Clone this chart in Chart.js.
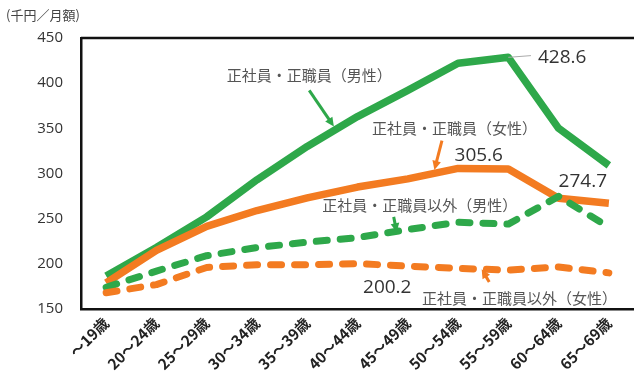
<!DOCTYPE html>
<html>
<head>
<meta charset="utf-8">
<script src="https://cdn.jsdelivr.net/npm/chart.js@4"></script>
<style>
  html, body { margin: 0; padding: 0; background: #fff; }
  #wrap { width: 634px; height: 379px; position: relative; }
</style>
</head>
<body>
<div id="wrap"><canvas id="chartWage"></canvas></div>
<script>
// 年齢階級別の賃金（千円／月額）- 値は図から読み取り
const ageLabels = ['～19歳', '20～24歳', '25～29歳', '30～34歳', '35～39歳', '40～44歳', '45～49歳', '50～54歳', '55～59歳', '60～64歳', '65～69歳'];
const regularMale = [186.5, 218, 252, 293, 330, 363, 392, 422, 428.6, 350, 309];
const regularFemale = [179, 215, 241.5, 259, 273, 285, 294, 305.6, 305, 272.5, 267];
const nonRegularMale = [174, 192, 209, 218, 224, 229, 238, 246, 244, 274.7, 240.5];
const nonRegularFemale = [168, 177, 196, 199, 199, 200.2, 197.5, 195, 193, 196.5, 190];
const yTicks = [150, 200, 250, 300, 350, 400, 450];

const GREEN = '#2ea84a';
const ORANGE = '#f37b21';
const JP_FONT = '"Noto Sans CJK JP", "Noto Sans", sans-serif';

// 注記: x = カテゴリ位置, y = 値（スケール経由で描画）
const notes = [
  { text: '正社員・正職員（男性）', x: 4.04, y: 408.5, arrow: [4.04, 392, 4.53, 352], color: GREEN },
  { text: '正社員・正職員（女性）', x: 6.93, y: 350, arrow: [6.68, 336.5, 6.53, 304], color: ORANGE },
  { text: '正社員・正職員以外（男性）', x: 6.24, y: 265, arrow: [5.72, 252, 5.78, 235], color: GREEN },
  { text: '正社員・正職員以外（女性）', x: 8.22, y: 161.5, arrow: [7.62, 180, 7.47, 194], color: ORANGE },
];
const valueNotes = [
  { text: '428.6', x: 8.59, y: 428.5 },
  { text: '305.6', x: 6.93, y: 320 },
  { text: '274.7', x: 9.0, y: 291 },
  { text: '200.2', x: 5.11, y: 174 },
];

function drawArrow(c, x1, y1, x2, y2, color) {
  const ang = Math.atan2(y2 - y1, x2 - x1);
  const head = 10;
  c.strokeStyle = color;
  c.fillStyle = color;
  c.lineWidth = 3;
  c.beginPath();
  c.moveTo(x1, y1);
  c.lineTo(x2 - Math.cos(ang) * head * 0.8, y2 - Math.sin(ang) * head * 0.8);
  c.stroke();
  c.beginPath();
  c.moveTo(x2, y2);
  c.lineTo(x2 - head * Math.cos(ang - 0.45), y2 - head * Math.sin(ang - 0.45));
  c.lineTo(x2 - head * Math.cos(ang + 0.45), y2 - head * Math.sin(ang + 0.45));
  c.closePath();
  c.fill();
}

const notesPlugin = {
  id: 'wageNotes',
  afterDraw(chart) {
    const { ctx: c, chartArea, scales } = chart;
    const sx = (v) => scales.x.getPixelForValue(v);
    const sy = (v) => scales.y.getPixelForValue(v);
    c.save();
    // 単位
    c.fillStyle = '#444';
    c.font = '13px ' + JP_FONT;
    c.textAlign = 'left';
    c.textBaseline = 'middle';
    c.fillText('(千円／月額)', 6, 15);
    // 枠の上辺
    c.strokeStyle = '#111';
    c.lineWidth = 2.5;
    c.beginPath();
    c.moveTo(chartArea.left, chartArea.top);
    c.lineTo(chartArea.right, chartArea.top);
    c.stroke();
    // 428.6 の引き出し線
    c.strokeStyle = '#aaa';
    c.lineWidth = 1;
    c.beginPath();
    c.moveTo(sx(8), sy(428.6));
    c.lineTo(sx(8.45), sy(430.5));
    c.stroke();
    notes.forEach((n) => {
      c.fillStyle = '#555';
      c.font = '15px ' + JP_FONT;
      c.textAlign = 'center';
      c.fillText(n.text, sx(n.x), sy(n.y));
      const [ax1, ay1, ax2, ay2] = n.arrow;
      drawArrow(c, sx(ax1), sy(ay1), sx(ax2), sy(ay2), n.color);
    });
    valueNotes.forEach((n) => {
      c.fillStyle = '#333';
      c.font = '19px "Open Sans", "Noto Sans", sans-serif';
      c.textAlign = 'left';
      c.fillText(n.text, sx(n.x), sy(n.y));
    });
    c.restore();
  },
};

const lineStyle = (color, dashed) => ({
  borderColor: color,
  backgroundColor: color,
  borderWidth: dashed ? 7 : 7.5,
  borderDash: dashed ? [11, 13] : [],
  borderCapStyle: dashed ? 'round' : 'butt',
  borderJoinStyle: 'round',
  pointRadius: 0,
  tension: 0,
  fill: false,
});

new Chart(document.getElementById('chartWage'), {
  type: 'line',
  data: {
    labels: ageLabels,
    datasets: [
      { label: '正社員・正職員以外（女性）', data: nonRegularFemale, ...lineStyle(ORANGE, true) },
      { label: '正社員・正職員以外（男性）', data: nonRegularMale, ...lineStyle(GREEN, true) },
      { label: '正社員・正職員（女性）', data: regularFemale, ...lineStyle(ORANGE, false) },
      { label: '正社員・正職員（男性）', data: regularMale, ...lineStyle(GREEN, false) },
    ],
  },
  options: {
    responsive: true,
    maintainAspectRatio: false,
    animation: false,
    layout: { padding: { top: 38, right: 0, left: 0, bottom: 0 } },
    plugins: {
      legend: { display: false },
      tooltip: { enabled: false },
    },
    scales: {
      x: {
        offset: true,
        grid: { display: false, drawTicks: false },
        border: { color: '#111', width: 2.5 },
        ticks: {
          color: '#222',
          font: { size: 15, weight: 'bold', family: JP_FONT },
          minRotation: 45,
          maxRotation: 45,
          padding: 5,
          autoSkip: false,
        },
        afterFit: (scale) => { scale.height = 70; },
      },
      y: {
        min: 150,
        max: 450,
        afterBuildTicks: (scale) => { scale.ticks = yTicks.map((v) => ({ value: v })); },
        grid: { display: false, drawTicks: false },
        border: { color: '#111', width: 2.5 },
        ticks: {
          color: '#333',
          font: { size: 15, family: '"Open Sans", "Noto Sans", sans-serif' },
          padding: 18,
        },
        afterFit: (scale) => { scale.width = 81; },
      },
    },
  },
  plugins: [notesPlugin],
});
</script>
</body>
</html>
